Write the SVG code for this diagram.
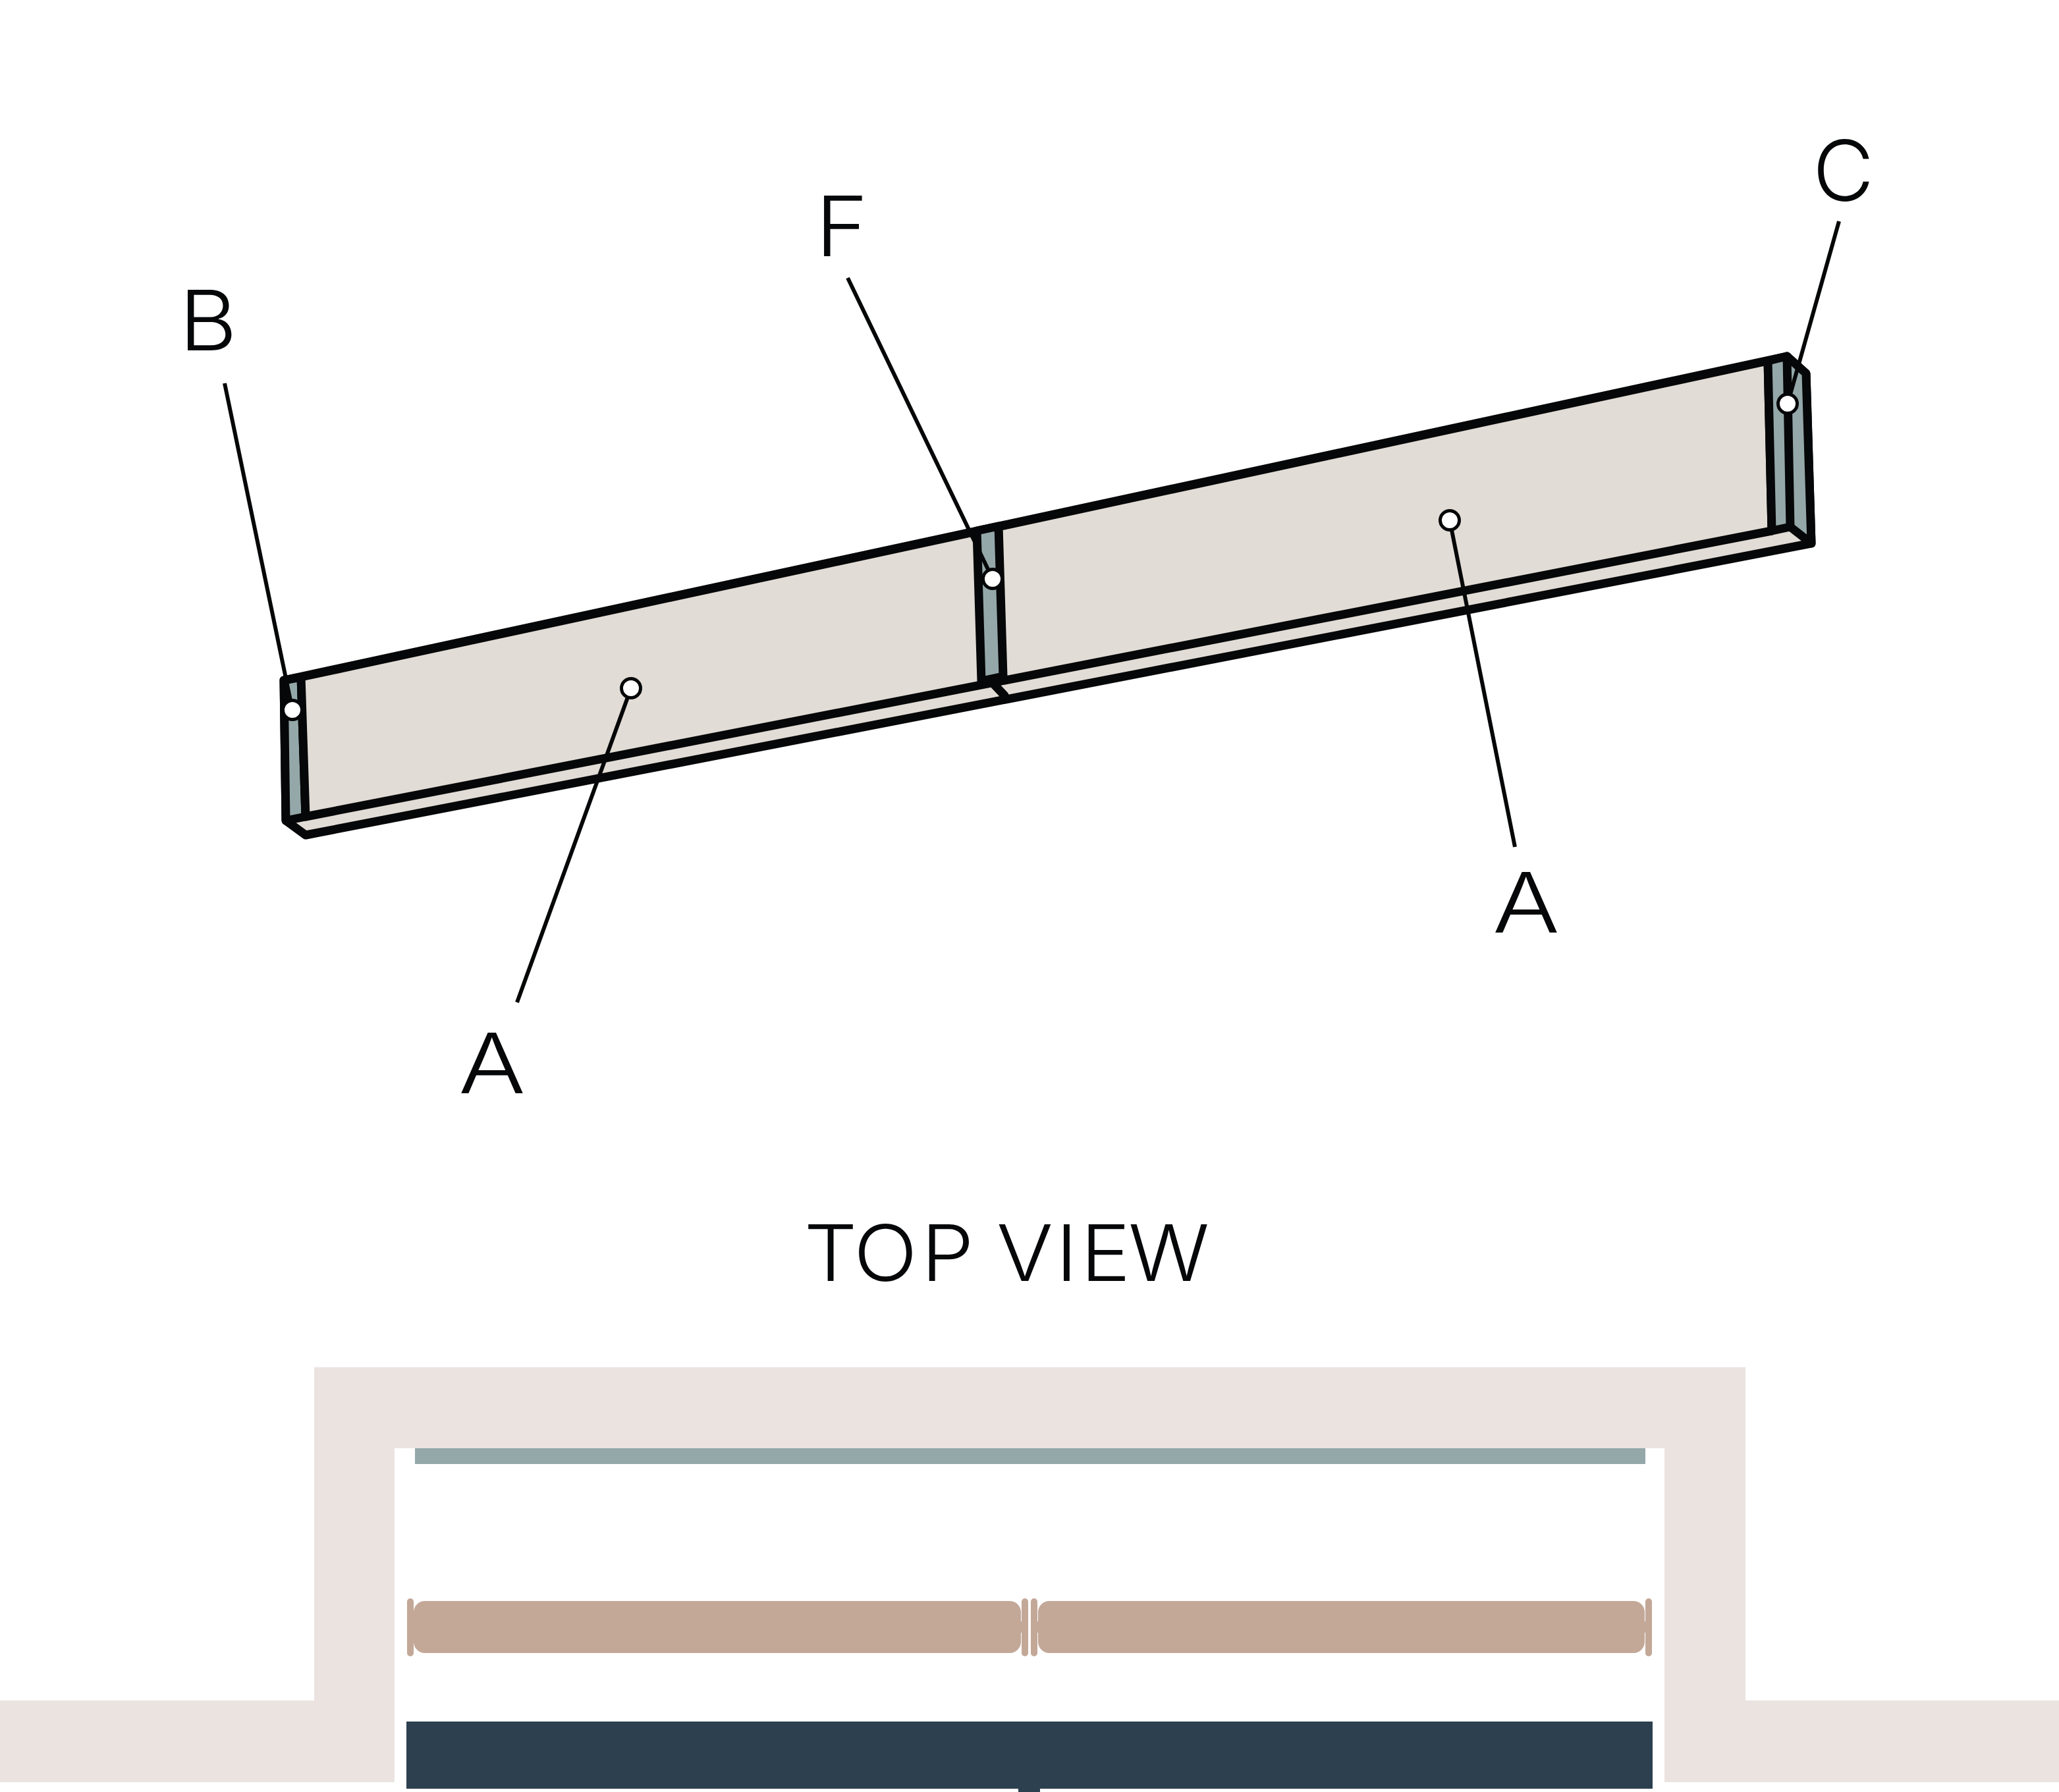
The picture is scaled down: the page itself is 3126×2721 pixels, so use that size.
<svg xmlns="http://www.w3.org/2000/svg" width="3126" height="2721" viewBox="0 0 3126 2721">
<style>
.o{stroke:#060708;stroke-width:13;stroke-linejoin:round;stroke-linecap:round}
.b{fill:#e2dcd6}.t{fill:#95a8a9}
.l{stroke:#060708;stroke-width:6;fill:none;stroke-linecap:butt}
.d{fill:#fff;stroke:#060708;stroke-width:5}
.x{font-family:"Inter","Liberation Sans",sans-serif;font-weight:300;fill:#060708}
.w{fill:#ebe3e0}.a{fill:#c3a898}
</style>
<rect width="3126" height="2721" fill="#fff"/>
<g id="beam">
<polygon class="o b" points="431,1033 2713,541 2742,567 2750,825 464,1268 434,1246"/>
<polygon class="o t" points="431,1033 457,1028 464,1240 434,1246"/>
<polygon class="o b" points="457,1028 2684,548 2690,806 464,1240"/>
<polygon class="o t" points="1483,806 1516,799 1523,1027 1490,1034"/>
<polygon class="o t" points="2684,548 2713,541 2742,567 2750,825 2718,800 2690,806"/>
<path class="o" fill="none" d="M2713,541L2718,800M1508,1038L1525,1056"/>
</g>
<g id="connectors">
<path class="l" d="M341,582L444,1078"/>
<path class="l" d="M1287,422L1507,879"/>
<path class="l" d="M2792,336L2714,613"/>
<path class="l" d="M958,1045L785,1522"/>
<path class="l" d="M2201,790L2300,1286"/>
</g>
<g id="dots">
<circle class="d" cx="444" cy="1078" r="14.5"/>
<circle class="d" cx="1507" cy="879" r="14.5"/>
<circle class="d" cx="2714" cy="613" r="14.5"/>
<circle class="d" cx="958" cy="1045" r="14.5"/>
<circle class="d" cx="2201" cy="790" r="14.5"/>
</g>
<g id="labels">
<text class="x" x="272" y="532" font-size="126" textLength="88" lengthAdjust="spacingAndGlyphs">B</text>
<text class="x" x="1238" y="389" font-size="126" textLength="80" lengthAdjust="spacingAndGlyphs">F</text>
<text class="x" x="2752" y="305" font-size="128">C</text>
<text class="x" x="2266" y="1416" font-size="126" textLength="102" lengthAdjust="spacingAndGlyphs">A</text>
<text class="x" x="696" y="1660" font-size="126" textLength="102" lengthAdjust="spacingAndGlyphs">A</text>
<text class="x" transform="scale(1.08,1)" y="1945" font-size="118" x="1130 1200 1295 1390 1401 1484 1519 1586">TOP VIEW</text>
</g>
<g id="top-view">
<polygon class="w" points="0,2582 477,2582 477,2076 2650,2076 2650,2582 3126,2582 3126,2706 2527,2706 2527,2199 599,2199 599,2706 0,2706"/>
<rect x="630" y="2199" width="1868" height="24" fill="#95a8a9"/>
<rect class="a" x="628" y="2431" width="922" height="79" rx="17"/>
<rect class="a" x="1576" y="2431" width="921" height="79" rx="17"/>
<rect class="a" x="618" y="2427" width="10" height="88" rx="5"/>
<rect class="a" x="1551" y="2427" width="10" height="88" rx="5"/>
<rect class="a" x="1565" y="2427" width="10" height="88" rx="5"/>
<rect class="a" x="2498" y="2427" width="10" height="88" rx="5"/>
<path class="a" d="M627,2462H629V2479H627ZM1549,2462H1552V2479H1549ZM1574,2462H1577V2479H1574ZM2496,2462H2499V2479H2496Z"/>
<rect x="617" y="2614" width="1892" height="102" fill="#2c404f"/>
<rect x="1546" y="2716" width="33" height="5" fill="#2c404f"/>
</g>
</svg>
